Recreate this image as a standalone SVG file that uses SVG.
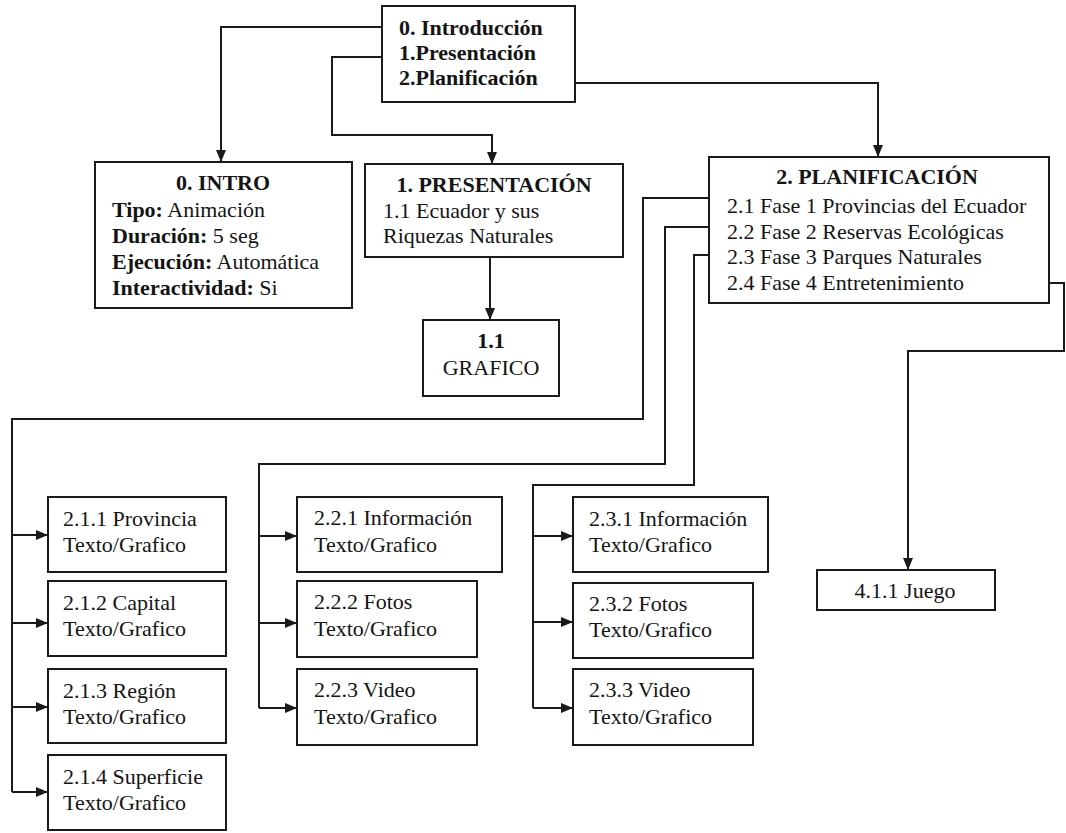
<svg xmlns="http://www.w3.org/2000/svg" width="1066" height="833" viewBox="0 0 1066 833">
  <style>
    .box { fill: #ffffff; stroke: #1a1a1a; stroke-width: 2; }
    .wire { fill: none; stroke: #1a1a1a; stroke-width: 2; }
    .arrow { marker-end: url(#head); }
    text { font-family: "Liberation Serif", "Times New Roman", serif; font-size: 22px; fill: #141414; }
    .b { font-weight: bold; }
    .c { text-anchor: middle; }
  </style>
  <defs>
    <marker id="head" viewBox="0 0 12 10" refX="12" refY="5" markerWidth="12" markerHeight="10" orient="auto" markerUnits="userSpaceOnUse">
      <path d="M0,0 L12,5 L0,10 z" fill="#1a1a1a"/>
    </marker>
  </defs>
  <rect width="1066" height="833" fill="#ffffff"/>

  <!-- connectors -->
  <g id="connectors">
    <path class="wire arrow" d="M382,27 H221 V162"/>
    <path class="wire arrow" d="M382,57 H332 V135 H492 V164"/>
    <path class="wire arrow" d="M575,83 H878 V157"/>
    <path class="wire arrow" d="M490,257 V320"/>

    <!-- 2.1 branch -->
    <path class="wire" d="M709,198 H643 V419 H12 V792"/>
    <path class="wire arrow" d="M12,535 H48"/>
    <path class="wire arrow" d="M12,623 H48"/>
    <path class="wire arrow" d="M12,707 H48"/>
    <path class="wire arrow" d="M12,792 H48"/>

    <!-- 2.2 branch -->
    <path class="wire" d="M709,227 H665 V464 H259 V708"/>
    <path class="wire arrow" d="M259,536 H297"/>
    <path class="wire arrow" d="M259,623 H297"/>
    <path class="wire arrow" d="M259,708 H297"/>

    <!-- 2.3 branch -->
    <path class="wire" d="M709,255 H694 V485 H533 V708"/>
    <path class="wire arrow" d="M533,536 H573"/>
    <path class="wire arrow" d="M533,622 H573"/>
    <path class="wire arrow" d="M533,708 H573"/>

    <!-- 2.4 branch -->
    <path class="wire arrow" d="M1049,283 H1064 V351 H908 V570"/>
  </g>

  <g id="root">
    <rect class="box" x="382" y="6" width="193" height="96"/>
    <text class="b" x="399" y="35">0. Introducción</text>
    <text class="b" x="399" y="60">1.Presentación</text>
    <text class="b" x="399" y="85">2.Planificación</text>
  </g>

  <g id="intro">
    <rect class="box" x="95" y="162" width="257" height="146"/>
    <text class="b c" x="223" y="190">0. INTRO</text>
    <text x="112" y="217"><tspan class="b">Tipo:</tspan> Animación</text>
    <text x="112" y="243"><tspan class="b">Duración:</tspan> 5 seg</text>
    <text x="112" y="269"><tspan class="b">Ejecución:</tspan> Automática</text>
    <text x="112" y="295"><tspan class="b">Interactividad:</tspan> Si</text>
  </g>

  <g id="presentacion">
    <rect class="box" x="365" y="164" width="258" height="93"/>
    <text class="b c" x="494" y="192">1. PRESENTACIÓN</text>
    <text x="383" y="218">1.1 Ecuador y sus</text>
    <text x="383" y="243">Riquezas Naturales</text>
  </g>

  <g id="grafico">
    <rect class="box" x="423" y="320" width="136" height="76"/>
    <text class="b c" x="491" y="348">1.1</text>
    <text class="c" x="491" y="375">GRAFICO</text>
  </g>

  <g id="planificacion">
    <rect class="box" x="709" y="157" width="340" height="146"/>
    <text class="b c" x="877" y="184">2. PLANIFICACIÓN</text>
    <text x="727" y="213">2.1 Fase 1 Provincias del Ecuador</text>
    <text x="727" y="239">2.2 Fase 2 Reservas Ecológicas</text>
    <text x="727" y="264">2.3 Fase 3 Parques Naturales</text>
    <text x="727" y="290">2.4 Fase 4 Entretenimiento</text>
  </g>

  <g id="n211">
    <rect class="box" x="48" y="497" width="178" height="75"/>
    <text x="63" y="526">2.1.1 Provincia</text>
    <text x="63" y="552">Texto/Grafico</text>
  </g>
  <g id="n212">
    <rect class="box" x="48" y="581" width="178" height="75"/>
    <text x="63" y="610">2.1.2 Capital</text>
    <text x="63" y="636">Texto/Grafico</text>
  </g>
  <g id="n213">
    <rect class="box" x="48" y="669" width="178" height="74"/>
    <text x="63" y="698">2.1.3 Región</text>
    <text x="63" y="724">Texto/Grafico</text>
  </g>
  <g id="n214">
    <rect class="box" x="48" y="755" width="178" height="75"/>
    <text x="63" y="784">2.1.4 Superficie</text>
    <text x="63" y="810">Texto/Grafico</text>
  </g>

  <g id="n221">
    <rect class="box" x="297" y="497" width="205" height="75"/>
    <text x="314" y="525">2.2.1 Información</text>
    <text x="314" y="552">Texto/Grafico</text>
  </g>
  <g id="n222">
    <rect class="box" x="297" y="581" width="180" height="76"/>
    <text x="314" y="609">2.2.2 Fotos</text>
    <text x="314" y="636">Texto/Grafico</text>
  </g>
  <g id="n223">
    <rect class="box" x="297" y="669" width="180" height="76"/>
    <text x="314" y="697">2.2.3 Video</text>
    <text x="314" y="724">Texto/Grafico</text>
  </g>

  <g id="n231">
    <rect class="box" x="573" y="497" width="195" height="75"/>
    <text x="589" y="526">2.3.1 Información</text>
    <text x="589" y="552">Texto/Grafico</text>
  </g>
  <g id="n232">
    <rect class="box" x="573" y="583" width="180" height="75"/>
    <text x="589" y="611">2.3.2 Fotos</text>
    <text x="589" y="637">Texto/Grafico</text>
  </g>
  <g id="n233">
    <rect class="box" x="573" y="669" width="180" height="76"/>
    <text x="589" y="697">2.3.3 Video</text>
    <text x="589" y="724">Texto/Grafico</text>
  </g>

  <g id="juego">
    <rect class="box" x="817" y="570" width="178" height="40"/>
    <text class="c" x="905" y="598">4.1.1 Juego</text>
  </g>
</svg>
